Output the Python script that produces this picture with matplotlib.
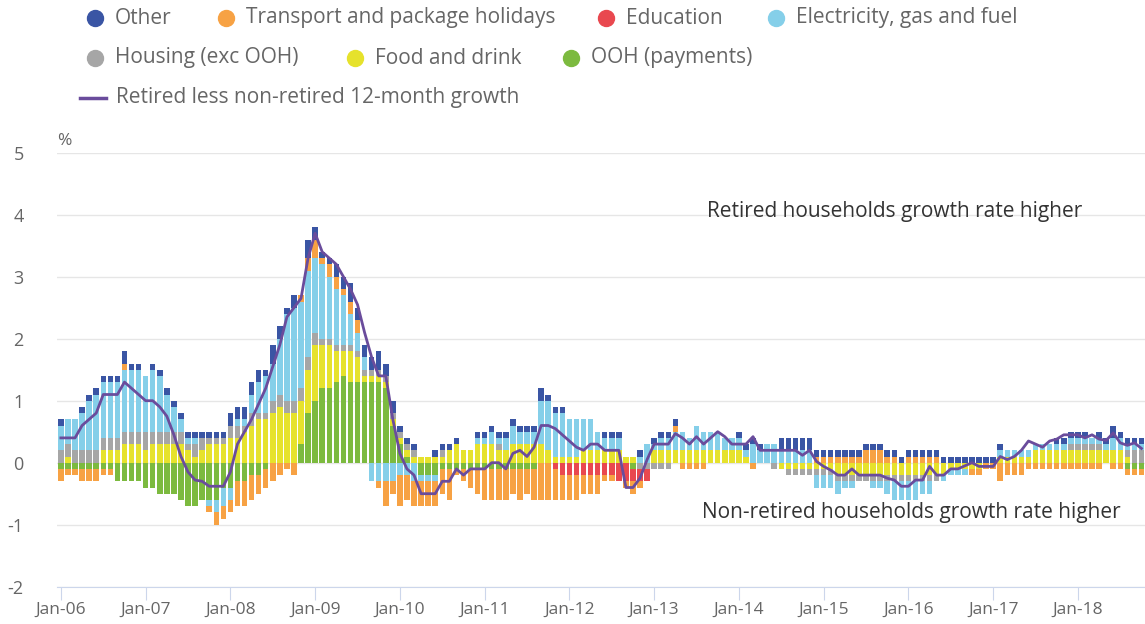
import matplotlib
matplotlib.use("Agg")
import matplotlib.pyplot as plt
import numpy as np
import pandas as pd
from matplotlib.lines import Line2D

plt.rcParams["font.family"] = ["Open Sans", "DejaVu Sans"]
plt.rcParams["axes.unicode_minus"] = False

# monthly contributions (percentage points), Jan-06 .. Oct-18
months = pd.date_range("2006-01-01", periods=154, freq="MS")

other = [
    .1, 0, 0, .1, .1, .1, .1, .1, .1, .2, .1, .1,
    0, .1, .1, .1, .1, .1, .1, .1, .1, .1, .1, .1,
    .2, .2, .2, .2, .2, .1, .3, .2, .1, .2, 0, .3,
    .2, .1, .1, .2, .2, .3, .2, .2, .2, .3, .2, .2,
    .1, .1, .1, 0, 0, .1, .1, .1, .1, 0, 0, .1,
    .1, .1, .1, .1, .1, .1, .1, .1, .2, .1, .1, .1,
    0, 0, 0, 0, 0, .1, .1, .1, 0, 0, .1, 0,
    .1, .1, .1, .1, 0, 0, 0, 0, 0, 0, 0, 0,
    .1, .1, .1, .1, 0, 0, .2, .2, .2, .2, .2, .1,
    .1, .1, .1, .1, .1, .1, .1, .1, .1, .1, .1, .1,
    .1, .1, .1, .1, .1, .1, .1, .1, .1, .1, .1, .1,
    .1, .1, 0, 0, 0, 0, 0, 0, 0, .1, .1, .1,
    .1, .1, 0, .1, .1, .2, .1, .1, .1, .1,
]
transport = [
    -.2, -.1, -.1, -.2, -.2, -.2, -.1, -.1, 0, .1, 0, 0,
    0, 0, 0, 0, 0, 0, 0, 0, 0, -.1, -.2, -.2,
    -.2, -.4, -.4, -.4, -.3, -.3, -.3, -.2, -.1, -.2, .1, .2,
    .3, .1, .2, .2, .1, .2, .2, 0, 0, -.1, -.4, -.2,
    -.5, -.4, -.4, -.4, -.4, -.4, -.4, -.5, -.1, -.2, -.3, -.4,
    -.5, -.5, -.5, -.5, -.4, -.5, -.4, -.5, -.6, -.6, -.5, -.4,
    -.4, -.4, -.3, -.3, -.3, -.1, -.1, 0, -.1, -.2, -.1, 0,
    0, 0, 0, .1, -.1, -.1, -.1, -.1, 0, 0, 0, 0,
    0, 0, -.1, 0, 0, 0, 0, 0, 0, 0, 0, .1,
    .1, .1, .1, .1, .1, .1, .2, .2, .2, .1, .1, 0,
    .1, .1, .1, .1, .1, 0, 0, 0, 0, -.1, -.1, -.1,
    -.1, -.3, -.2, -.2, -.2, -.1, -.1, -.1, -.1, -.1, -.1, -.1,
    -.1, -.1, -.1, -.1, 0, -.1, -.1, -.1, -.1, -.1,
]
education = [
    0, 0, 0, 0, 0, 0, 0, 0, 0, 0, 0, 0,
    0, 0, 0, 0, 0, 0, 0, 0, 0, 0, 0, 0,
    0, 0, 0, 0, 0, 0, 0, 0, 0, 0, 0, 0,
    0, 0, 0, 0, 0, 0, 0, 0, 0, 0, 0, 0,
    0, 0, 0, 0, 0, 0, 0, 0, 0, 0, 0, 0,
    0, 0, 0, 0, 0, 0, 0, 0, 0, 0, -.1, -.2,
    -.2, -.2, -.2, -.2, -.2, -.2, -.2, -.3, -.3, -.2, -.2, -.2,
    0, 0, 0, 0, 0, 0, 0, 0, 0, 0, 0, 0,
    0, 0, 0, 0, 0, 0, 0, 0, 0, 0, 0, 0,
    0, 0, 0, 0, 0, 0, 0, 0, 0, 0, 0, 0,
    0, 0, 0, 0, 0, 0, 0, 0, 0, 0, 0, 0,
    0, 0, 0, 0, 0, 0, 0, 0, 0, 0, 0, 0,
    0, 0, 0, 0, 0, 0, 0, 0, 0, 0,
]
electricity = [
    .4, .4, .5, .6, .8, .9, .9, .9, .9, 1.0, 1.0, 1.0,
    .9, 1.0, .9, .6, .4, .2, .1, .1, 0, -.1, -.2, -.3,
    -.2, .1, .1, .3, .5, .6, .6, .9, 1.4, 1.5, 1.4, 1.4,
    1.2, 1.2, 1.0, .9, .8, .5, .3, .2, -.3, -.3, -.3, -.3,
    -.2, -.2, -.3, -.1, -.1, -.1, 0, 0, 0, 0, 0, .1,
    .1, .2, .1, .2, .3, .2, .2, .2, .7, .8, .7, .7,
    .6, .6, .5, .5, .3, .2, .2, .2, 0, 0, .1, .3,
    .1, .2, .2, .3, .3, .2, .4, .3, .3, .3, .2, .2,
    .2, .1, .3, .2, .3, .3, .2, .2, .2, .2, .2, -.2,
    -.2, -.2, -.2, -.1, -.1, 0, 0, -.1, -.1, -.2, -.3, -.3,
    -.3, -.3, -.2, -.2, 0, -.1, -.1, -.1, -.1, 0, 0, 0,
    0, .1, .1, .1, .1, .1, .1, .1, .1, .1, .1, .1,
    .1, .1, .1, .1, .1, .2, .2, .1, .1, .1,
]
housing = [
    .2, .2, .2, .2, .2, .2, .2, .2, .2, .2, .2, .2,
    .3, .2, .2, .2, .2, .2, .1, .2, .2, .1, .1, .1,
    .2, .2, .1, .2, .1, .1, .2, .2, .2, .2, .2, .2,
    .2, .1, .1, .1, .1, .1, .1, .1, .1, .1, .1, .1,
    .1, .1, .1, 0, 0, 0, .1, 0, 0, 0, 0, 0,
    0, 0, .1, 0, 0, 0, 0, 0, 0, 0, 0, 0,
    0, 0, 0, 0, 0, 0, 0, 0, 0, 0, -.1, -.1,
    -.1, -.1, -.1, 0, 0, 0, 0, 0, 0, 0, 0, 0,
    0, 0, 0, 0, 0, -.1, 0, -.1, -.1, -.1, -.1, -.1,
    -.1, -.1, -.1, -.1, -.1, -.1, -.1, -.1, -.1, -.1, -.1, -.1,
    -.1, -.1, -.1, -.1, -.1, 0, 0, 0, 0, 0, 0, 0,
    0, 0, 0, 0, 0, 0, 0, 0, 0, 0, 0, .1,
    .1, .1, .1, .1, 0, 0, 0, .1, .2, .2,
]
food = [
    0, .1, 0, 0, 0, 0, .2, .2, .2, .3, .3, .3,
    .2, .3, .3, .3, .3, .3, .2, .1, .2, .3, .3, .3,
    .4, .4, .5, .6, .7, .7, .8, .9, .8, .8, .7, .7,
    .9, .7, .7, .5, .4, .5, .4, .1, .1, .1, .1, .1,
    .1, .1, .1, .1, .1, .1, .1, .2, .3, .2, .2, .3,
    .3, .3, .2, .2, .3, .3, .3, .3, .3, .2, .1, .1,
    .1, .1, .2, .2, .2, .2, .2, .2, .1, .1, 0, 0,
    .2, .2, .2, .2, .2, .2, .2, .2, .2, .2, .2, .2,
    .2, .1, 0, 0, 0, 0, -.1, -.1, -.1, -.1, -.1, -.1,
    -.1, -.1, -.2, -.2, -.2, -.2, -.2, -.2, -.2, -.2, -.2, -.2,
    -.2, -.2, -.2, -.2, -.2, -.2, -.1, -.1, -.1, -.1, -.1, 0,
    0, .1, .1, .1, .1, .1, .2, .2, .2, .2, .2, .2,
    .2, .2, .2, .2, .2, .2, .2, .1, 0, 0,
]
ooh = [
    -.1, -.1, -.1, -.1, -.1, -.1, -.1, -.1, -.3, -.3, -.3, -.3,
    -.4, -.4, -.5, -.5, -.5, -.6, -.7, -.7, -.6, -.6, -.6, -.4,
    -.4, -.3, -.3, -.2, -.2, -.1, 0, 0, 0, 0, .3, .8,
    1.0, 1.2, 1.2, 1.3, 1.4, 1.3, 1.3, 1.3, 1.3, 1.3, 1.2, .6,
    .3, .1, 0, -.2, -.2, -.2, -.1, -.1, -.1, -.1, -.1, -.1,
    -.1, -.1, -.1, -.1, -.1, -.1, -.1, -.1, 0, 0, 0, 0,
    0, 0, 0, 0, 0, 0, 0, 0, 0, -.1, 0, 0,
    0, 0, 0, 0, 0, 0, 0, 0, 0, 0, 0, 0,
    0, 0, 0, 0, 0, 0, 0, 0, 0, 0, 0, 0,
    0, 0, 0, 0, 0, 0, 0, 0, 0, 0, 0, 0,
    0, 0, 0, 0, 0, 0, 0, 0, 0, 0, 0, 0,
    0, 0, 0, 0, 0, 0, 0, 0, 0, 0, 0, 0,
    0, 0, 0, 0, 0, 0, 0, -.1, -.1, -.1,
]
retired_gap = [
    .4, .4, .4, .6, .7, .8, 1.1, 1.1, 1.1, 1.3, 1.2, 1.1,
    1.0, 1.0, .9, .75, .45, .1, -.15, -.28, -.3, -.38, -.38, -.38,
    -.15, .3, .5, .7, .95, 1.2, 1.55, 1.9, 2.35, 2.5, 2.65, 3.3,
    3.7, 3.4, 3.3, 3.2, 3.0, 2.8, 2.55, 2.1, 1.7, 1.4, 1.4, .7,
    .15, -.1, -.2, -.5, -.5, -.5, -.3, -.3, -.1, -.2, -.1, -.1,
    -.1, 0, 0, -.1, .15, .2, .1, .25, .6, .6, .55, .45,
    .35, .25, .2, .3, .3, .2, .2, .2, -.4, -.4, -.25, .05,
    .3, .3, .3, .47, .4, .3, .42, .3, .4, .5, .42, .3,
    .3, .3, .42, .2, .2, .2, .2, .2, .2, .12, .2, .02,
    -.06, -.12, -.2, -.2, -.1, -.2, -.2, -.2, -.2, -.25, -.28, -.38,
    -.38, -.28, -.28, -.06, -.2, -.2, -.1, -.1, -.05, 0, -.06, -.06,
    -.06, .1, .05, .1, .2, .35, .3, .25, .35, .38, .45, .45,
    .45, .4, .45, .38, .36, .48, .32, .28, .32, .23,
]

# stacking order from the zero line outwards, with legend labels and colours
series = [
    ("OOH (payments)", ooh, "#7cba3f"),
    ("Food and drink", food, "#e6e22c"),
    ("Housing (exc OOH)", housing, "#a6a6a6"),
    ("Electricity, gas and fuel", electricity, "#85cfe9"),
    ("Education", education, "#e9484f"),
    ("Transport and package holidays", transport, "#f7a244"),
    ("Other", other, "#3a55a4"),
]
line_color = "#6a4c9c"

W, H = 1145, 624
fig = plt.figure(figsize=(W / 100, H / 100), dpi=100)
ax = fig.add_axes([57 / W, (H - 586.7) / H, 1 - 57 / W, (586.7 - 152.7) / H])

x = np.arange(len(months))
pos_base = np.zeros(len(x))
neg_base = np.zeros(len(x))
for name, vals, color in series:
    v = np.array(vals, dtype=float)
    pos = np.where(v > 0, v, 0)
    neg = np.where(v < 0, v, 0)
    ax.bar(x, pos, bottom=pos_base, width=0.78, color=color, linewidth=0, zorder=2)
    ax.bar(x, neg, bottom=neg_base, width=0.78, color=color, linewidth=0, zorder=2)
    pos_base += pos
    neg_base += neg

ax.plot(x, retired_gap, color=line_color, lw=2, zorder=4, solid_joinstyle="round")

ax.set_xlim(-0.55, 153.5)
ax.set_ylim(-2, 5)
ax.set_yticks(range(-2, 6))
ax.yaxis.grid(True, color="#e6e6e6", lw=1)
ax.set_axisbelow(True)
for s in ["top", "right", "left"]:
    ax.spines[s].set_visible(False)
ax.spines["bottom"].set_color("#ccd6eb")

jan = [i for i, m in enumerate(months) if m.month == 1]
ax.set_xticks(jan)
ax.set_xticklabels([months[i].strftime("%b-%y") for i in jan])
ax.tick_params(axis="x", length=9, color="#ccd6eb", labelcolor="#666666",
               labelsize=12.5, pad=2)
ax.tick_params(axis="y", length=0, labelcolor="#666666", labelsize=13, pad=24)

fig.text(57 / W, 1 - 141 / H, "%", fontsize=12.5, color="#666666", va="center")

ax.text(91.5, 4.05, "Retired households growth rate higher",
        fontsize=15, color="#333333", va="center")
ax.text(90.8, -0.81, "Non-retired households growth rate higher",
        fontsize=15, color="#333333", va="center")

# legend, laid out in rows like the original
colors = {name: c for name, _, c in series}
rows = [
    (18, [("Other", 95), ("Transport and package holidays", 226),
          ("Education", 606), ("Electricity, gas and fuel", 776)]),
    (58, [("Housing (exc OOH)", 95), ("Food and drink", 355), ("OOH (payments)", 571)]),
]
for y, items in rows:
    for name, mx in items:
        fig.add_artist(Line2D([mx / W], [1 - y / H], marker="o", ms=11.5, lw=0,
                              color=colors[name], transform=fig.transFigure))
        fig.text((mx + 20) / W, 1 - y / H, name, fontsize=15, color="#666666",
                 va="center")
fig.add_artist(Line2D([80 / W, 106 / W], [1 - 98 / H, 1 - 98 / H], lw=2.5,
                      color=line_color, transform=fig.transFigure))
fig.text(116 / W, 1 - 98 / H, "Retired less non-retired 12-month growth",
         fontsize=15, color="#666666", va="center")

fig.savefig("out.png", dpi=100)
